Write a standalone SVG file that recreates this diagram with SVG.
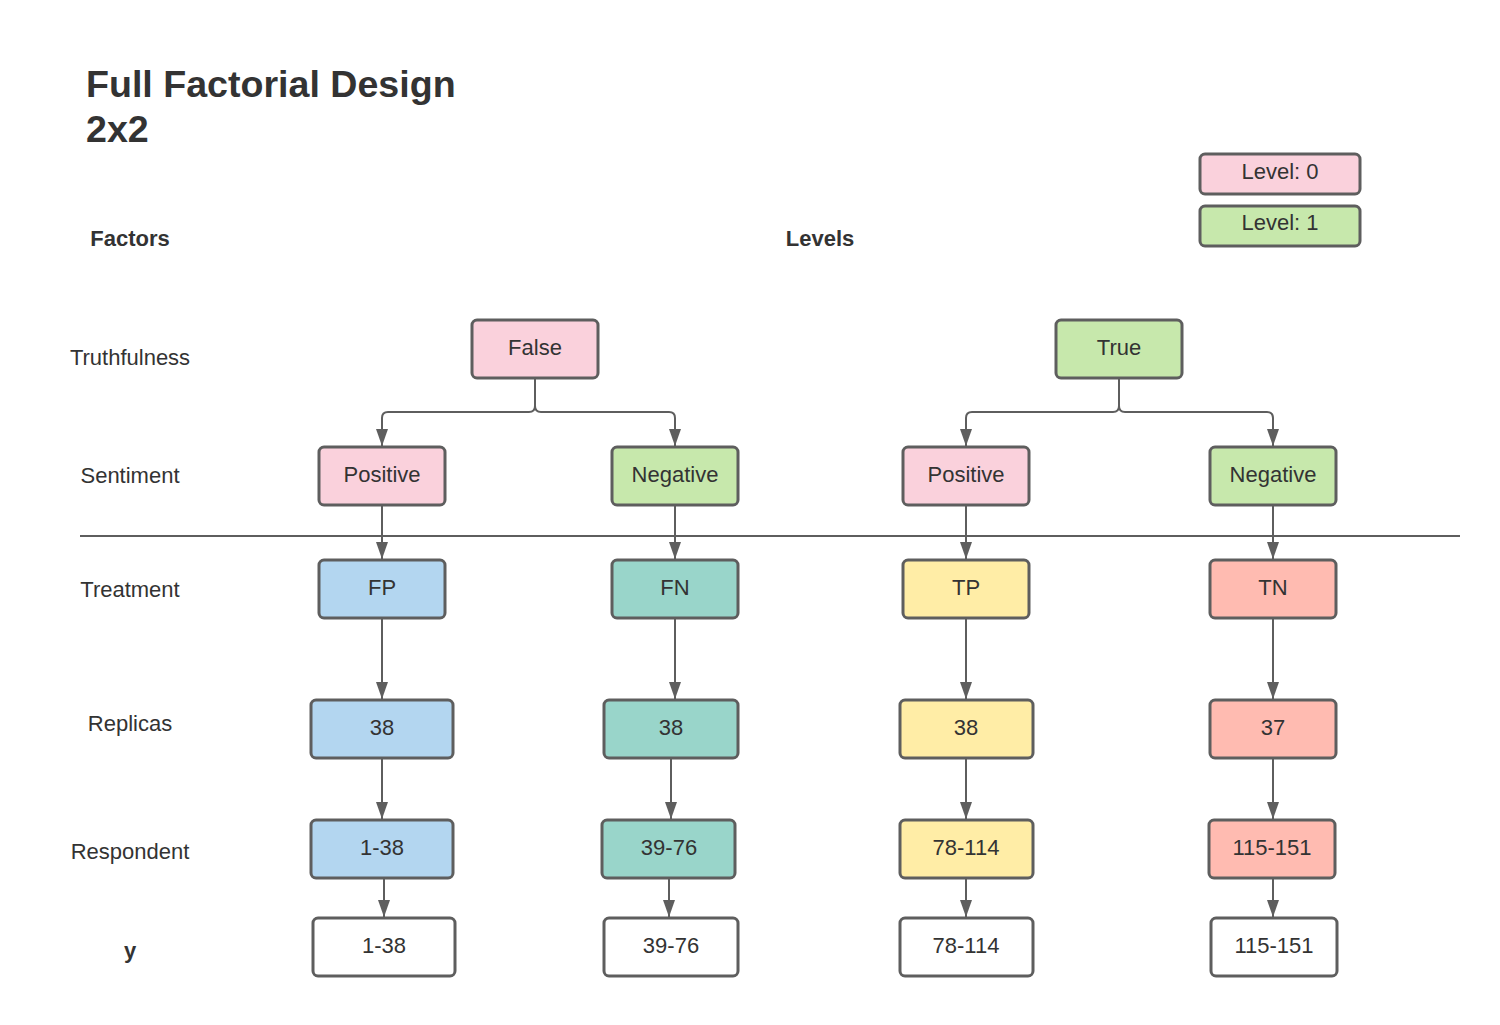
<svg xmlns="http://www.w3.org/2000/svg" width="1500" height="1025" viewBox="0 0 1500 1025">
<defs>
<marker id="ah" viewBox="0 0 17 12" refX="17" refY="6" markerWidth="17" markerHeight="12" markerUnits="userSpaceOnUse" orient="auto">
<path d="M0,0 L17,6 L0,12 Z" fill="#5e5e5e"/>
</marker>
</defs>
<style>
.b{stroke:#5e5e5e;stroke-width:3}
.t{font-family:"Liberation Sans",Arial,sans-serif;font-size:22px;fill:#333;text-anchor:middle}
.lab{font-family:"Liberation Sans",Arial,sans-serif;font-size:22px;fill:#333;text-anchor:middle}
.bold{font-weight:bold;font-size:22px}
.pink{fill:#FAD1DC}.green{fill:#C7E8AC}.blue{fill:#B3D6F0}.teal{fill:#99D5CA}.yellow{fill:#FFEDA6}.salmon{fill:#FFBBB1}.white{fill:#fff}
.c{fill:none;stroke:#5e5e5e;stroke-width:2}
</style>
<rect width="1500" height="1025" fill="#fff"/>
<g id="title">
<text x="86" y="97" font-family="Liberation Sans,Arial,sans-serif" font-size="37.6" font-weight="bold" fill="#333">Full Factorial Design</text>
<text x="86" y="142" font-family="Liberation Sans,Arial,sans-serif" font-size="37.6" font-weight="bold" fill="#333">2x2</text>
</g>
<g id="labels">
<text class="lab bold" x="130" y="246">Factors</text>
<text class="lab bold" x="820" y="246">Levels</text>
<text class="lab" x="130" y="365">Truthfulness</text>
<text class="lab" x="130" y="483">Sentiment</text>
<text class="lab" x="130" y="597">Treatment</text>
<text class="lab" x="130" y="731">Replicas</text>
<text class="lab" x="130" y="859">Respondent</text>
<text class="lab bold" x="130" y="958">y</text>
</g>
<g id="legend">
<g id="legend0"><rect class="b pink" x="1200" y="154" width="160" height="40" rx="5"/><text class="t" x="1280" y="179">Level: 0</text></g>
<g id="legend1"><rect class="b green" x="1200" y="206" width="160" height="40" rx="5"/><text class="t" x="1280" y="230">Level: 1</text></g>
</g>
<line id="divider" x1="80" y1="536" x2="1460" y2="536" stroke="#5e5e5e" stroke-width="2"/>
<g id="connectors">
<path class="c" d="M535,378 V406 Q535,412 529,412 H388 Q382,412 382,418 V446" marker-end="url(#ah)"/>
<path class="c" d="M535,378 V406 Q535,412 541,412 H669 Q675,412 675,418 V446" marker-end="url(#ah)"/>
<path class="c" d="M1119,378 V406 Q1119,412 1113,412 H972 Q966,412 966,418 V446" marker-end="url(#ah)"/>
<path class="c" d="M1119,378 V406 Q1119,412 1125,412 H1267 Q1273,412 1273,418 V446" marker-end="url(#ah)"/>
<path class="c" d="M382,505 V559" marker-end="url(#ah)"/>
<path class="c" d="M675,505 V559" marker-end="url(#ah)"/>
<path class="c" d="M966,505 V559" marker-end="url(#ah)"/>
<path class="c" d="M1273,505 V559" marker-end="url(#ah)"/>
<path class="c" d="M382,618 V699" marker-end="url(#ah)"/>
<path class="c" d="M675,618 V699" marker-end="url(#ah)"/>
<path class="c" d="M966,618 V699" marker-end="url(#ah)"/>
<path class="c" d="M1273,618 V699" marker-end="url(#ah)"/>
<path class="c" d="M382,758 V819" marker-end="url(#ah)"/>
<path class="c" d="M671,758 V819" marker-end="url(#ah)"/>
<path class="c" d="M966,758 V819" marker-end="url(#ah)"/>
<path class="c" d="M1273,758 V819" marker-end="url(#ah)"/>
<path class="c" d="M384,878 V917" marker-end="url(#ah)"/>
<path class="c" d="M669,878 V917" marker-end="url(#ah)"/>
<path class="c" d="M966,878 V917" marker-end="url(#ah)"/>
<path class="c" d="M1273,878 V917" marker-end="url(#ah)"/>
</g>
<g id="false"><rect class="b pink" x="472" y="320" width="126" height="58" rx="5"/><text class="t" x="535" y="355">False</text></g>
<g id="true"><rect class="b green" x="1056" y="320" width="126" height="58" rx="5"/><text class="t" x="1119" y="355">True</text></g>
<g id="pos1"><rect class="b pink" x="319" y="447" width="126" height="58" rx="5"/><text class="t" x="382" y="482">Positive</text></g>
<g id="neg1"><rect class="b green" x="612" y="447" width="126" height="58" rx="5"/><text class="t" x="675" y="482">Negative</text></g>
<g id="pos2"><rect class="b pink" x="903" y="447" width="126" height="58" rx="5"/><text class="t" x="966" y="482">Positive</text></g>
<g id="neg2"><rect class="b green" x="1210" y="447" width="126" height="58" rx="5"/><text class="t" x="1273" y="482">Negative</text></g>
<g id="fp"><rect class="b blue" x="319" y="560" width="126" height="58" rx="5"/><text class="t" x="382" y="595">FP</text></g>
<g id="fn"><rect class="b teal" x="612" y="560" width="126" height="58" rx="5"/><text class="t" x="675" y="595">FN</text></g>
<g id="tp"><rect class="b yellow" x="903" y="560" width="126" height="58" rx="5"/><text class="t" x="966" y="595">TP</text></g>
<g id="tn"><rect class="b salmon" x="1210" y="560" width="126" height="58" rx="5"/><text class="t" x="1273" y="595">TN</text></g>
<g id="rep1"><rect class="b blue" x="311" y="700" width="142" height="58" rx="5"/><text class="t" x="382" y="735">38</text></g>
<g id="rep2"><rect class="b teal" x="604" y="700" width="134" height="58" rx="5"/><text class="t" x="671" y="735">38</text></g>
<g id="rep3"><rect class="b yellow" x="900" y="700" width="133" height="58" rx="5"/><text class="t" x="966" y="735">38</text></g>
<g id="rep4"><rect class="b salmon" x="1210" y="700" width="126" height="58" rx="5"/><text class="t" x="1273" y="735">37</text></g>
<g id="res1"><rect class="b blue" x="311" y="820" width="142" height="58" rx="5"/><text class="t" x="382" y="855">1-38</text></g>
<g id="res2"><rect class="b teal" x="602" y="820" width="133" height="58" rx="5"/><text class="t" x="669" y="855">39-76</text></g>
<g id="res3"><rect class="b yellow" x="900" y="820" width="133" height="58" rx="5"/><text class="t" x="966" y="855">78-114</text></g>
<g id="res4"><rect class="b salmon" x="1209" y="820" width="126" height="58" rx="5"/><text class="t" x="1272" y="855">115-151</text></g>
<g id="y1"><rect class="b white" x="313" y="918" width="142" height="58" rx="5"/><text class="t" x="384" y="953">1-38</text></g>
<g id="y2"><rect class="b white" x="604" y="918" width="134" height="58" rx="5"/><text class="t" x="671" y="953">39-76</text></g>
<g id="y3"><rect class="b white" x="900" y="918" width="133" height="58" rx="5"/><text class="t" x="966" y="953">78-114</text></g>
<g id="y4"><rect class="b white" x="1211" y="918" width="126" height="58" rx="5"/><text class="t" x="1274" y="953">115-151</text></g>
</svg>
